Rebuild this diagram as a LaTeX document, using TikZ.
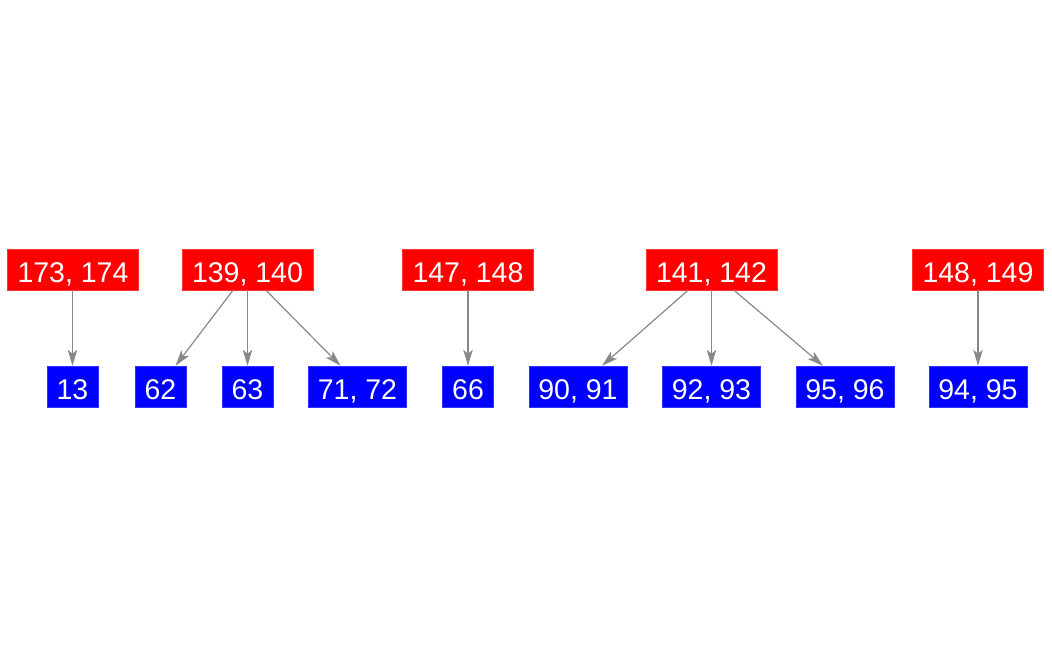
\documentclass[tikz,border=0pt]{standalone}
\usepackage{fontspec}
\setmainfont{Liberation Sans}
\usetikzlibrary{arrows.meta}
\definecolor{edgegray}{HTML}{888888}
\tikzset{
  boxtext/.style={text=white, inner sep=0pt, minimum height=41pt, text height=25pt, text depth=0pt, font=\fontsize{28.5}{30}\selectfont},
  redbox/.style={boxtext, fill=red, draw=red!80!white, line width=0.5pt, minimum width=131pt},
  bluebox/.style={boxtext, fill=blue, draw=blue!80!white, line width=0.5pt},
  narrow/.style={bluebox, minimum width=51pt},
  wide/.style={bluebox, minimum width=98pt},
  edge/.style={draw=edgegray, line width=1.2pt, -{Stealth[length=16pt, width=9.5pt, inset=4pt]}}
}
\begin{document}
\begin{tikzpicture}[x=1pt, y=-1pt]
\useasboundingbox (0,0) rectangle (1052,656);
% parents
\node[redbox] (p1) at (73,269.5) {173, 174};
\node[redbox] (p2) at (247.5,269.5) {139, 140};
\node[redbox] (p3) at (468,269.5) {147, 148};
\node[redbox] (p4) at (711.5,269.5) {141, 142};
\node[redbox] (p5) at (978,269.5) {148, 149};
% children
\node[narrow] (c13) at (72.5,386.5) {13};
\node[narrow] (c62) at (160.5,386.5) {62};
\node[narrow] (c63) at (247.5,386.5) {63};
\node[wide] (c71) at (357.5,386.5) {71, 72};
\node[narrow] (c66) at (468,386.5) {66};
\node[wide] (c90) at (578,386.5) {90, 91};
\node[wide] (c92) at (711.5,386.5) {92, 93};
\node[wide] (c95) at (845,386.5) {95, 96};
\node[wide] (c94) at (978,386.5) {94, 95};
% edges
\draw[edge] ([xshift=-0.5pt]p1.south) -- (c13.north);
\draw[edge] ([xshift=-14.5pt]p2.south) -- ([xshift=15pt]c62.north);
\draw[edge] (p2.south) -- (c63.north);
\draw[edge] ([xshift=18.5pt]p2.south) -- ([xshift=-17pt]c71.north);
\draw[edge] (p3.south) -- (c66.north);
\draw[edge] ([xshift=-23.5pt]p4.south) -- ([xshift=24pt]c90.north);
\draw[edge] (p4.south) -- (c92.north);
\draw[edge] ([xshift=22.5pt]p4.south) -- ([xshift=-22pt]c95.north);
\draw[edge] (p5.south) -- (c94.north);
\end{tikzpicture}
\end{document}
